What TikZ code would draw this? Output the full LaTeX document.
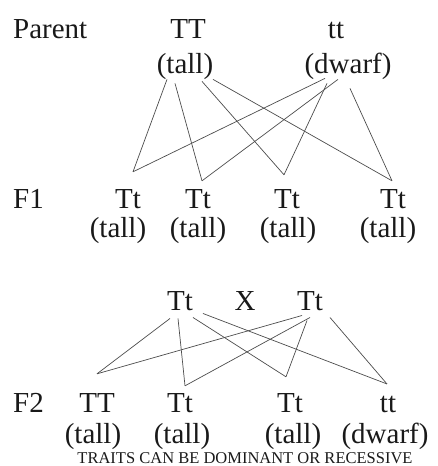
\documentclass[tikz,border=0pt]{standalone}
\usepackage{fontspec}
\setmainfont{Liberation Serif}
\begin{document}
\begin{tikzpicture}[x=1pt,y=-1pt,
  txt/.style={anchor=base,inner sep=0pt,text=black!90,
    font=\rmfamily\fontsize{29}{31}\selectfont},
  link/.style={draw=black!70,line width=.7pt}]
  \useasboundingbox (0,0) rectangle (438,466);
  % parents
  \node[txt,anchor=base west] (parent) at (13,38) {Parent};
  \node[txt] (pTT) at (188,38) {TT};
  \node[txt] (ptt) at (336,38) {tt};
  \node[txt] (ptall) at (185,73) {(tall)};
  \node[txt] (pdwarf) at (348,73) {(dwarf)};
  % first generation
  \node[txt,anchor=base west] (fone) at (13,208) {F1};
  \node[txt] (fa) at (128,208) {Tt};
  \node[txt] (fb) at (198,208) {Tt};
  \node[txt] (fc) at (287,208) {Tt};
  \node[txt] (fd) at (393,208) {Tt};
  \node[txt] (fatall) at (118,237) {(tall)};
  \node[txt] (fbtall) at (198,237) {(tall)};
  \node[txt] (fctall) at (288,237) {(tall)};
  \node[txt] (fdtall) at (388,237) {(tall)};
  \draw[link] ([xshift=-18pt]ptall.south) -- ([xshift=5pt,yshift=17pt]fa.north);
  \draw[link] ([xshift=-10pt,yshift=-4pt]ptall.south) -- ([xshift=4pt,yshift=8pt]fb.north);
  \draw[link] ([xshift=17pt,yshift=-2pt]ptall.south) -- ([xshift=-3pt,yshift=14pt]fc.north);
  \draw[link] ([xshift=28pt]ptall.south) -- ([xshift=-1pt,yshift=8pt]fd.north);
  \draw[link] ([xshift=-23pt,yshift=1pt]pdwarf.south) -- ([xshift=5pt,yshift=17pt]fa.north);
  \draw[link] ([xshift=-10pt]pdwarf.south) -- ([xshift=4pt,yshift=8pt]fb.north);
  \draw[link] ([xshift=-21pt,yshift=-4pt]pdwarf.south) -- ([xshift=-3pt,yshift=14pt]fc.north);
  \draw[link] ([xshift=2pt,yshift=-9pt]pdwarf.south) -- ([xshift=-1pt,yshift=8pt]fd.north);
  % cross
  \node[txt] (ca) at (180,310) {Tt};
  \node[txt] (cx) at (245,310) {X};
  \node[txt] (cb) at (310,310) {Tt};
  % second generation
  \node[txt,anchor=base west] (ftwo) at (13,412) {F2};
  \node[txt] (ga) at (97,412) {TT};
  \node[txt] (gb) at (180,412) {Tt};
  \node[txt] (gc) at (290,412) {Tt};
  \node[txt] (gd) at (388,412) {tt};
  \node[txt] (gatall) at (93,443) {(tall)};
  \node[txt] (gbtall) at (182,443) {(tall)};
  \node[txt] (gctall) at (293,443) {(tall)};
  \node[txt] (gddwarf) at (385,443) {(dwarf)};
  \draw[link] ([xshift=-10pt,yshift=-8pt]ca.south) -- ([yshift=19pt]ga.north);
  \draw[link] ([xshift=-2pt,yshift=-8pt]ca.south) -- ([xshift=5pt,yshift=7pt]gb.north);
  \draw[link] ([xshift=13pt,yshift=-7pt]ca.south) -- ([xshift=-4pt,yshift=16pt]gc.north);
  \draw[link] ([xshift=23pt,yshift=-3pt]ca.south) -- ([xshift=-1pt,yshift=11.5pt]gd.north);
  \draw[link] ([xshift=-8pt,yshift=-5pt]cb.south) -- ([yshift=19pt]ga.north);
  \draw[link] ([yshift=-7pt]cb.south) -- ([xshift=5pt,yshift=7pt]gb.north);
  \draw[link] ([xshift=-3pt,yshift=-10pt]cb.south) -- ([xshift=-4pt,yshift=16pt]gc.north);
  \draw[link] ([xshift=20pt,yshift=-7pt]cb.south) -- ([xshift=-1pt,yshift=11.5pt]gd.north);
  \node[txt,font=\rmfamily\fontsize{16.5}{18}\selectfont] (note) at (245,463)
    {TRAITS CAN BE DOMINANT OR RECESSIVE};
\end{tikzpicture}
\end{document}
